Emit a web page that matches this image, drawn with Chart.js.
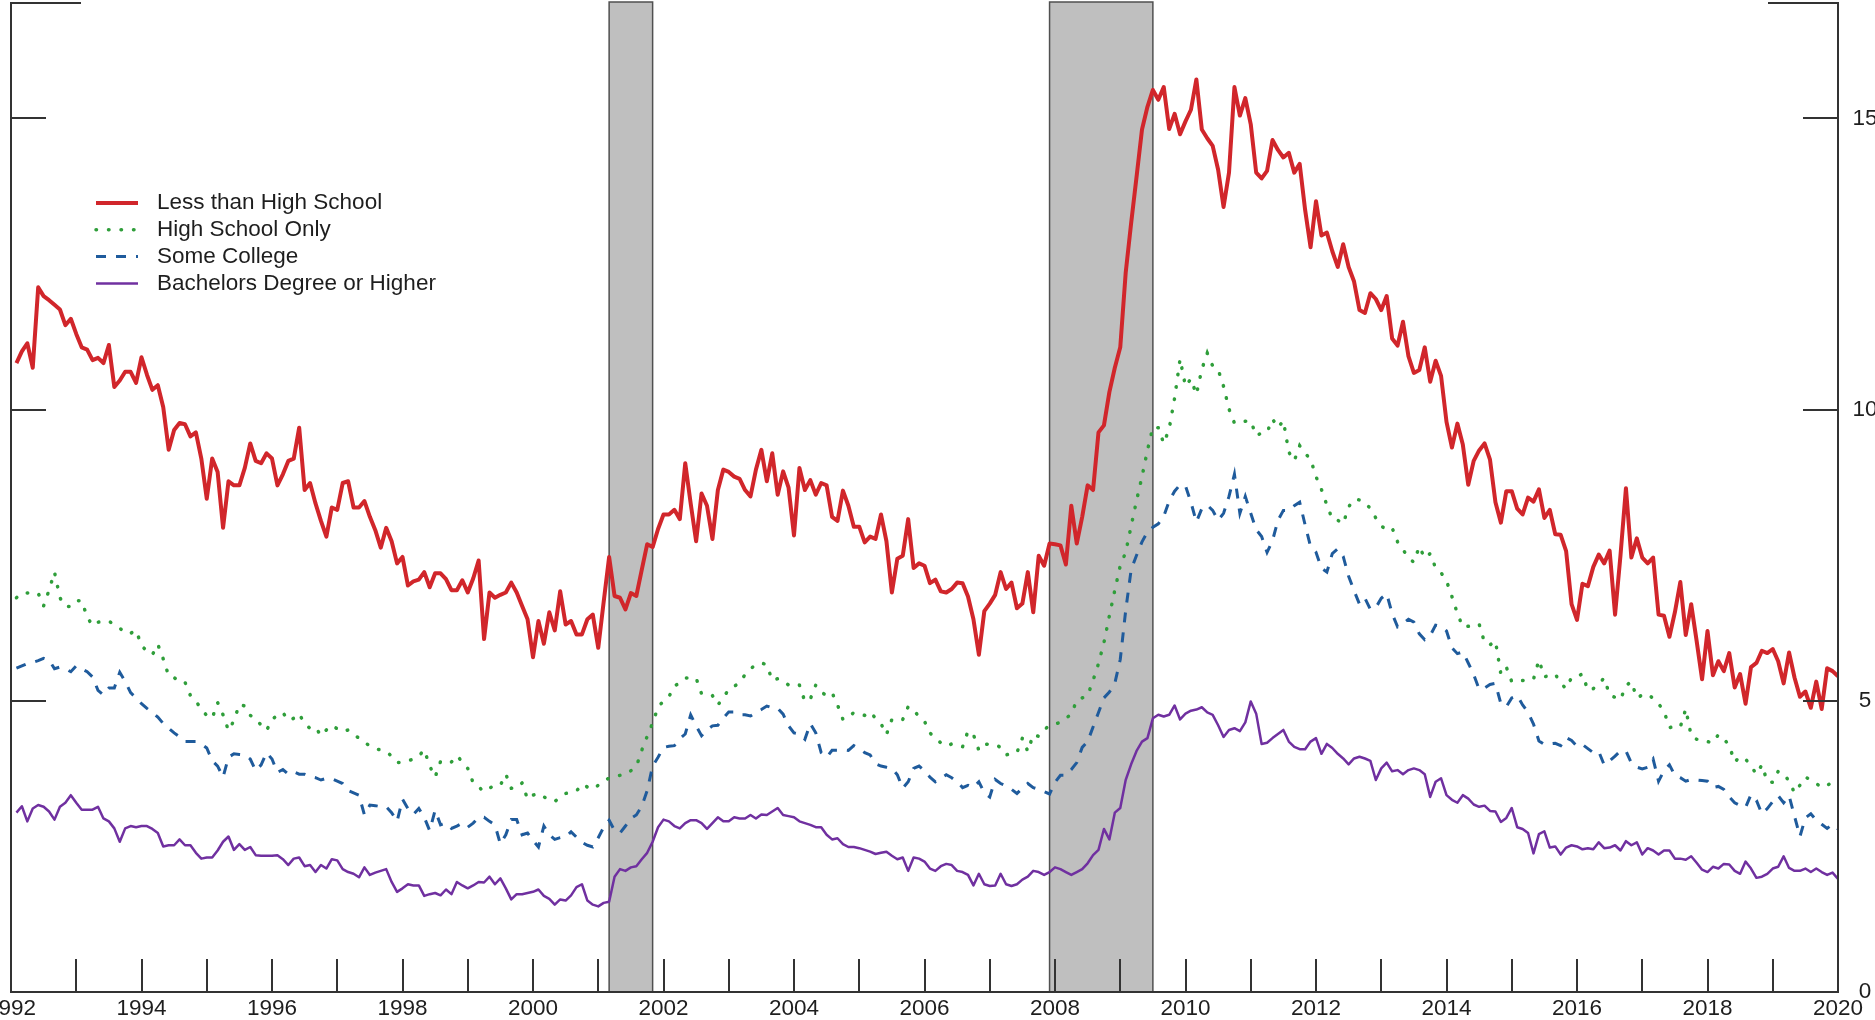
<!DOCTYPE html>
<html>
<head>
<meta charset="utf-8">
<script src="https://cdn.jsdelivr.net/npm/chart.js@4.4.0/dist/chart.umd.min.js"></script>
<style>
html,body{margin:0;padding:0;background:#ffffff;overflow:hidden}
canvas{display:block}
</style>
</head>
<body>
<canvas id="chart" width="1875" height="1020"></canvas>
<script>
// ---- data (monthly, Jan 1992 – Dec 2019) ----
const startYear = 1992;
const seriesNames = ['Less than High School', 'High School Only', 'Some College', 'Bachelors Degree or Higher'];

const lessHS = [
  10.80, 11.00, 11.14, 10.72, 12.10, 11.95, 11.88, 11.80, 11.72, 11.45, 11.56, 11.30,
  11.07, 11.03, 10.85, 10.89, 10.80, 11.11, 10.39, 10.50, 10.65, 10.65, 10.46, 10.90,
  10.60, 10.34, 10.42, 10.04, 9.31, 9.65, 9.77, 9.75, 9.54, 9.61, 9.16, 8.47,
  9.16, 8.93, 7.97, 8.77, 8.70, 8.70, 9.00, 9.42, 9.12, 9.08, 9.25, 9.16,
  8.70, 8.89, 9.12, 9.16, 9.69, 8.62, 8.74, 8.39, 8.09, 7.82, 8.32, 8.28,
  8.74, 8.77, 8.32, 8.32, 8.43, 8.16, 7.93, 7.63, 7.97, 7.74, 7.36, 7.47,
  6.98, 7.05, 7.08, 7.21, 6.95, 7.19, 7.19, 7.09, 6.90, 6.90, 7.07, 6.86,
  7.10, 7.41, 6.06, 6.86, 6.77, 6.82, 6.86, 7.03, 6.86, 6.63, 6.40, 5.75,
  6.37, 5.98, 6.52, 6.21, 6.88, 6.31, 6.37, 6.14, 6.14, 6.40, 6.48, 5.91,
  6.70, 7.47, 6.80, 6.77, 6.57, 6.85, 6.80, 7.25, 7.69, 7.64, 7.95, 8.20,
  8.20, 8.28, 8.12, 9.08, 8.39, 7.74, 8.56, 8.35, 7.78, 8.62, 8.97, 8.93,
  8.85, 8.81, 8.62, 8.51, 8.97, 9.31, 8.77, 9.25, 8.54, 8.94, 8.66, 7.84,
  9.00, 8.62, 8.79, 8.54, 8.74, 8.70, 8.16, 8.09, 8.61, 8.35, 7.99, 7.99,
  7.72, 7.82, 7.78, 8.20, 7.74, 6.86, 7.44, 7.49, 8.12, 7.28, 7.36, 7.32,
  7.02, 7.08, 6.88, 6.86, 6.92, 7.03, 7.02, 6.79, 6.40, 5.79, 6.54, 6.67,
  6.82, 7.21, 6.92, 7.03, 6.59, 6.67, 7.21, 6.52, 7.49, 7.32, 7.70, 7.69,
  7.67, 7.34, 8.35, 7.70, 8.16, 8.70, 8.62, 9.61, 9.73, 10.30, 10.72, 11.07,
  12.35, 13.20, 14.00, 14.81, 15.20, 15.49, 15.32, 15.54, 14.82, 15.08, 14.73, 14.95,
  15.15, 15.67, 14.81, 14.66, 14.53, 14.12, 13.48, 14.07, 15.54, 15.05, 15.35, 14.90,
  14.07, 13.97, 14.10, 14.63, 14.46, 14.33, 14.41, 14.07, 14.22, 13.43, 12.79, 13.58,
  12.99, 13.04, 12.72, 12.45, 12.84, 12.45, 12.20, 11.71, 11.66, 12.00, 11.90, 11.71,
  11.95, 11.22, 11.10, 11.51, 10.92, 10.63, 10.68, 11.07, 10.48, 10.84, 10.58, 9.79,
  9.35, 9.76, 9.40, 8.71, 9.12, 9.30, 9.42, 9.14, 8.41, 8.06, 8.60, 8.60,
  8.30, 8.20, 8.49, 8.42, 8.63, 8.14, 8.28, 7.86, 7.85, 7.57, 6.66, 6.39,
  7.01, 6.97, 7.30, 7.51, 7.36, 7.58, 6.48, 7.50, 8.65, 7.46, 7.79, 7.46,
  7.36, 7.46, 6.48, 6.46, 6.10, 6.52, 7.04, 6.13, 6.66, 6.03, 5.37, 6.20,
  5.44, 5.68, 5.51, 5.82, 5.23, 5.46, 4.95, 5.58, 5.65, 5.86, 5.82, 5.89,
  5.68, 5.30, 5.83, 5.40, 5.07, 5.16, 4.88, 5.33, 4.86, 5.56, 5.51, 5.42
];

const hsOnly = [
  6.77, 6.85, 6.85, 6.85, 6.85, 6.63, 6.90, 7.21, 6.77, 6.62, 6.62, 6.72,
  6.72, 6.44, 6.29, 6.35, 6.37, 6.37, 6.30, 6.25, 6.16, 6.16, 6.21, 5.95,
  5.85, 5.79, 5.97, 5.72, 5.43, 5.40, 5.32, 5.32, 5.09, 5.00, 4.85, 4.75,
  4.70, 4.97, 4.76, 4.49, 4.66, 4.94, 4.91, 4.75, 4.70, 4.58, 4.49, 4.68,
  4.75, 4.80, 4.66, 4.70, 4.78, 4.60, 4.53, 4.55, 4.40, 4.50, 4.58, 4.52,
  4.47, 4.50, 4.42, 4.36, 4.28, 4.23, 4.17, 4.16, 4.13, 4.05, 3.94, 3.94,
  3.97, 4.00, 4.05, 4.16, 3.88, 3.69, 3.96, 3.93, 3.95, 4.06, 3.95, 3.84,
  3.59, 3.52, 3.44, 3.50, 3.55, 3.55, 3.74, 3.50, 3.50, 3.59, 3.31, 3.38,
  3.41, 3.35, 3.30, 3.27, 3.35, 3.41, 3.43, 3.45, 3.57, 3.52, 3.48, 3.55,
  3.63, 3.67, 3.71, 3.72, 3.73, 3.80, 3.87, 4.15, 4.39, 4.62, 4.89, 5.00,
  5.07, 5.26, 5.30, 5.39, 5.39, 5.39, 5.12, 5.10, 5.09, 4.93, 5.05, 5.20,
  5.25, 5.31, 5.45, 5.55, 5.62, 5.65, 5.62, 5.35, 5.38, 5.35, 5.27, 5.30,
  5.27, 4.99, 5.03, 5.27, 5.15, 5.09, 5.14, 4.93, 4.68, 4.72, 4.80, 4.77,
  4.75, 4.81, 4.70, 4.61, 4.42, 4.68, 4.70, 4.68, 4.90, 4.85, 4.72, 4.65,
  4.45, 4.35, 4.28, 4.22, 4.26, 4.24, 4.21, 4.48, 4.42, 4.15, 4.25, 4.26,
  4.25, 4.20, 4.07, 4.10, 4.11, 4.36, 4.13, 4.42, 4.39, 4.50, 4.58, 4.60,
  4.63, 4.70, 4.77, 5.01, 5.05, 5.09, 5.35, 5.64, 6.00, 6.46, 6.90, 7.32,
  7.55, 8.00, 8.44, 8.85, 9.30, 9.70, 9.69, 9.42, 9.67, 10.20, 10.87, 10.40,
  10.53, 10.26, 10.69, 10.97, 10.75, 10.69, 10.40, 10.01, 9.77, 9.79, 9.80, 9.81,
  9.55, 9.60, 9.61, 9.84, 9.69, 9.81, 9.27, 9.12, 9.38, 9.25, 9.15, 8.85,
  8.63, 8.36, 8.12, 8.10, 8.04, 8.33, 8.46, 8.45, 8.41, 8.30, 8.14, 8.00,
  7.94, 7.97, 7.73, 7.60, 7.45, 7.38, 7.65, 7.45, 7.53, 7.28, 7.20, 7.06,
  6.79, 6.50, 6.27, 6.28, 6.30, 6.32, 6.00, 5.96, 6.03, 5.46, 5.58, 5.33,
  5.34, 5.35, 5.36, 5.37, 5.70, 5.41, 5.44, 5.46, 5.30, 5.21, 5.40, 5.42,
  5.46, 5.18, 5.21, 5.30, 5.39, 5.10, 5.06, 5.02, 5.26, 5.33, 5.05, 5.10,
  5.12, 5.04, 4.95, 4.82, 4.54, 4.56, 4.55, 4.86, 4.40, 4.34, 4.34, 4.30,
  4.28, 4.42, 4.35, 4.23, 3.95, 4.04, 4.00, 3.88, 3.74, 3.90, 3.61, 3.60,
  3.79, 3.75, 3.62, 3.42, 3.55, 3.69, 3.64, 3.58, 3.51, 3.55, 3.60, 3.60
];

const someCollege = [
  5.56, 5.60, 5.64, 5.66, 5.69, 5.73, 5.70, 5.55, 5.58, 5.55, 5.50, 5.60,
  5.55, 5.50, 5.41, 5.18, 5.10, 5.22, 5.22, 5.49, 5.33, 5.14, 5.05, 4.95,
  4.87, 4.80, 4.72, 4.61, 4.53, 4.45, 4.38, 4.30, 4.30, 4.30, 4.26, 4.19,
  3.97, 3.88, 3.69, 4.03, 4.09, 4.08, 4.07, 4.00, 3.80, 3.90, 4.11, 4.00,
  3.77, 3.82, 3.74, 3.78, 3.74, 3.74, 3.70, 3.68, 3.64, 3.67, 3.66, 3.62,
  3.58, 3.46, 3.42, 3.38, 3.04, 3.21, 3.20, 3.18, 3.18, 3.08, 2.93, 3.31,
  3.15, 3.05, 3.15, 3.00, 2.77, 3.12, 2.87, 2.90, 2.81, 2.85, 2.90, 2.83,
  2.90, 3.00, 3.00, 2.93, 2.87, 2.54, 2.70, 2.96, 2.96, 2.70, 2.73, 2.60,
  2.49, 2.85, 2.70, 2.62, 2.65, 2.66, 2.75, 2.66, 2.57, 2.52, 2.49, 2.65,
  2.83, 2.95, 2.77, 2.73, 2.85, 2.98, 3.04, 3.19, 3.46, 3.88, 4.03, 4.20,
  4.22, 4.23, 4.35, 4.43, 4.76, 4.57, 4.40, 4.50, 4.57, 4.58, 4.70, 4.81,
  4.81, 4.76, 4.76, 4.74, 4.80, 4.85, 4.91, 4.88, 4.87, 4.77, 4.57, 4.45,
  4.43, 4.34, 4.61, 4.45, 4.11, 4.03, 4.15, 4.15, 4.16, 4.15, 4.23, 4.18,
  4.11, 4.07, 3.92, 3.88, 3.86, 3.84, 3.73, 3.50, 3.61, 3.84, 3.88, 3.80,
  3.69, 3.61, 3.67, 3.73, 3.68, 3.61, 3.51, 3.55, 3.51, 3.61, 3.42, 3.35,
  3.65, 3.58, 3.54, 3.48, 3.41, 3.50, 3.58, 3.51, 3.48, 3.44, 3.40, 3.60,
  3.72, 3.72, 3.82, 3.94, 4.20, 4.30, 4.55, 4.80, 5.05, 5.15, 5.30, 5.71,
  6.55, 7.25, 7.50, 7.73, 7.90, 7.98, 8.04, 8.17, 8.43, 8.60, 8.71, 8.69,
  8.41, 8.07, 8.30, 8.36, 8.27, 8.10, 8.22, 8.51, 8.89, 8.22, 8.51, 8.22,
  7.94, 7.82, 7.55, 7.75, 8.10, 8.27, 8.27, 8.35, 8.41, 8.02, 7.65, 7.55,
  7.28, 7.21, 7.53, 7.61, 7.48, 7.14, 6.89, 6.66, 6.76, 6.57, 6.60, 6.76,
  6.84, 6.50, 6.27, 6.33, 6.40, 6.35, 6.15, 6.05, 6.12, 6.30, 6.28, 6.20,
  5.91, 5.81, 5.84, 5.65, 5.45, 5.20, 5.22, 5.28, 5.30, 4.95, 4.90, 5.05,
  5.09, 4.93, 4.80, 4.60, 4.31, 4.25, 4.26, 4.27, 4.23, 4.37, 4.32, 4.22,
  4.25, 4.18, 4.11, 4.13, 3.90, 3.97, 4.05, 4.14, 4.14, 3.93, 3.86, 3.83,
  3.86, 4.00, 3.62, 3.80, 3.90, 3.72, 3.68, 3.62, 3.65, 3.64, 3.63, 3.62,
  3.51, 3.53, 3.48, 3.35, 3.25, 3.20, 3.17, 3.39, 3.29, 3.06, 3.15, 3.27,
  3.37, 3.25, 3.37, 3.02, 2.67, 2.99, 3.06, 2.95, 2.88, 2.81, 2.88, 2.80
];

const bachelors = [
  3.08, 3.19, 2.93, 3.15, 3.21, 3.18, 3.10, 2.96, 3.18, 3.25, 3.38, 3.25,
  3.13, 3.13, 3.13, 3.18, 2.98, 2.93, 2.81, 2.58, 2.81, 2.85, 2.83, 2.85,
  2.85, 2.80, 2.73, 2.50, 2.52, 2.52, 2.62, 2.52, 2.52, 2.39, 2.29, 2.31,
  2.31, 2.43, 2.58, 2.67, 2.44, 2.54, 2.44, 2.49, 2.35, 2.34, 2.34, 2.34,
  2.35, 2.28, 2.18, 2.29, 2.31, 2.16, 2.18, 2.06, 2.18, 2.12, 2.28, 2.26,
  2.11, 2.06, 2.03, 1.97, 2.14, 2.01, 2.05, 2.08, 2.11, 1.89, 1.72, 1.78,
  1.85, 1.83, 1.83, 1.65, 1.68, 1.70, 1.66, 1.76, 1.68, 1.89, 1.83, 1.78,
  1.83, 1.89, 1.88, 1.98, 1.85, 1.95, 1.78, 1.59, 1.68, 1.68, 1.70, 1.72,
  1.76, 1.65, 1.60, 1.50, 1.59, 1.57, 1.66, 1.80, 1.85, 1.57, 1.50, 1.47,
  1.53, 1.55, 1.98, 2.11, 2.08, 2.14, 2.16, 2.28, 2.39, 2.58, 2.83, 2.96,
  2.93, 2.85, 2.81, 2.90, 2.95, 2.95, 2.90, 2.80, 2.90, 3.00, 2.93, 2.93,
  3.00, 2.98, 2.98, 3.04, 2.98, 3.05, 3.04, 3.10, 3.16, 3.04, 3.02, 3.00,
  2.93, 2.90, 2.87, 2.83, 2.83, 2.70, 2.62, 2.64, 2.54, 2.49, 2.49, 2.47,
  2.44, 2.41, 2.37, 2.39, 2.41, 2.34, 2.28, 2.31, 2.08, 2.31, 2.29, 2.24,
  2.12, 2.08, 2.16, 2.20, 2.18, 2.08, 2.06, 2.01, 1.83, 2.03, 1.85, 1.82,
  1.83, 2.03, 1.85, 1.82, 1.85, 1.93, 1.98, 2.08, 2.06, 2.01, 2.06, 2.14,
  2.11, 2.06, 2.01, 2.06, 2.11, 2.21, 2.35, 2.44, 2.80, 2.62, 3.08, 3.16,
  3.64, 3.91, 4.14, 4.30, 4.36, 4.70, 4.76, 4.73, 4.76, 4.92, 4.68, 4.78,
  4.83, 4.85, 4.89, 4.80, 4.76, 4.58, 4.38, 4.50, 4.53, 4.48, 4.63, 4.99,
  4.78, 4.26, 4.28, 4.36, 4.43, 4.50, 4.30, 4.21, 4.17, 4.17, 4.30, 4.36,
  4.09, 4.26, 4.19, 4.09, 4.01, 3.91, 4.01, 4.04, 4.01, 3.97, 3.64, 3.84,
  3.94, 3.79, 3.81, 3.74, 3.81, 3.84, 3.81, 3.74, 3.35, 3.61, 3.67, 3.38,
  3.30, 3.25, 3.38, 3.32, 3.22, 3.18, 3.20, 3.11, 3.10, 2.92, 2.99, 3.16,
  2.83, 2.80, 2.73, 2.38, 2.71, 2.76, 2.48, 2.50, 2.36, 2.48, 2.52, 2.50,
  2.45, 2.47, 2.45, 2.57, 2.47, 2.48, 2.52, 2.43, 2.59, 2.52, 2.57, 2.36,
  2.47, 2.43, 2.36, 2.43, 2.43, 2.29, 2.29, 2.27, 2.33, 2.22, 2.10, 2.06,
  2.15, 2.12, 2.20, 2.19, 2.08, 2.03, 2.24, 2.12, 1.96, 1.98, 2.03, 2.12,
  2.15, 2.33, 2.13, 2.08, 2.08, 2.12, 2.06, 2.12, 2.06, 2.01, 2.05, 1.94
];

// recession periods (start, end) in decimal years
const recessionStarts = [2001 + 2 / 12, 2007 + 11 / 12];
const recessionEnds = [2001 + 10 / 12, 2009 + 6 / 12];

// tick marks and labels
const xTickYears = [];
for (let yr = 1993; yr <= 2019; yr++) xTickYears.push(yr);
const xLabelYears = [1992, 1994, 1996, 1998, 2000, 2002, 2004, 2006, 2008, 2010, 2012, 2014, 2016, 2018, 2020];
const yTickValues = [5, 10, 15];
const yLabelValues = [0, 5, 10, 15];

// ---- build ----
function toPoints(arr) {
  return arr.map((v, i) => ({ x: startYear + (i + 1) / 12, y: v }));
}

const FONT = '"Liberation Sans", Arial, Helvetica, sans-serif';

const decor = {
  id: 'decor',
  beforeDatasetsDraw(chart) {
    const { ctx, chartArea: a, scales: { x } } = chart;
    ctx.save();
    for (let i = 0; i < recessionStarts.length; i++) {
      const x0 = x.getPixelForValue(recessionStarts[i]);
      const x1 = x.getPixelForValue(recessionEnds[i]);
      ctx.fillStyle = '#bfbfbf';
      ctx.fillRect(x0, a.top, x1 - x0, a.bottom - a.top);
      ctx.strokeStyle = '#505050';
      ctx.lineWidth = 1.5;
      ctx.strokeRect(x0, a.top, x1 - x0, a.bottom - a.top);
    }
    ctx.restore();
  },
  afterDatasetsDraw(chart) {
    const { ctx, chartArea: a, scales: { x, y } } = chart;
    ctx.save();
    ctx.strokeStyle = '#333333';
    ctx.lineWidth = 2;
    ctx.lineCap = 'butt';
    ctx.setLineDash([]);
    ctx.beginPath();
    // frame: left, bottom, right
    ctx.moveTo(a.left, a.top);
    ctx.lineTo(a.left, a.bottom);
    ctx.lineTo(a.right, a.bottom);
    ctx.lineTo(a.right, a.top);
    // short top segments
    ctx.moveTo(a.left, a.top + 1);
    ctx.lineTo(a.left + 70, a.top + 1);
    ctx.moveTo(a.right - 70, a.top + 1);
    ctx.lineTo(a.right, a.top + 1);
    // y ticks (both sides, inward)
    yTickValues.forEach(v => {
      const py = Math.round(y.getPixelForValue(v));
      ctx.moveTo(a.left, py);
      ctx.lineTo(a.left + 35, py);
      ctx.moveTo(a.right - 35, py);
      ctx.lineTo(a.right, py);
    });
    // x ticks (inward from bottom)
    xTickYears.forEach(yr => {
      const px = Math.round(x.getPixelForValue(yr));
      ctx.moveTo(px, a.bottom);
      ctx.lineTo(px, a.bottom - 33);
    });
    ctx.stroke();

    // tick labels
    ctx.fillStyle = '#1e1e1e';
    ctx.font = '22.5px ' + FONT;
    ctx.textAlign = 'center';
    ctx.textBaseline = 'middle';
    xLabelYears.forEach(yr => {
      ctx.fillText(String(yr), x.getPixelForValue(yr), a.bottom + 17);
    });
    yLabelValues.forEach(v => {
      ctx.fillText(String(v), a.right + 27, y.getPixelForValue(v));
    });

    // legend
    const ds = chart.data.datasets;
    ctx.textAlign = 'left';
    ds.forEach((d, i) => {
      const ly = 203 + i * 26.8;
      ctx.save();
      ctx.strokeStyle = d.borderColor;
      ctx.lineWidth = d.borderWidth;
      ctx.lineCap = d.borderCapStyle || 'butt';
      ctx.setLineDash(d.borderDash || []);
      ctx.beginPath();
      ctx.moveTo(96, ly);
      ctx.lineTo(138, ly);
      ctx.stroke();
      ctx.restore();
      ctx.fillStyle = '#1e1e1e';
      ctx.fillText(d.label, 157, ly);
    });
    ctx.restore();
  }
};

new Chart(document.getElementById('chart'), {
  type: 'line',
  data: {
    datasets: [
      {
        label: seriesNames[0],
        data: toPoints(lessHS),
        borderColor: '#d1262b',
        borderWidth: 4,
        borderJoinStyle: 'round',
        pointRadius: 0,
        tension: 0,
        order: 1
      },
      {
        label: seriesNames[1],
        data: toPoints(hsOnly),
        borderColor: '#2f9e3a',
        borderWidth: 3.5,
        borderDash: [0.5, 12],
        borderCapStyle: 'round',
        pointRadius: 0,
        tension: 0,
        order: 2
      },
      {
        label: seriesNames[2],
        data: toPoints(someCollege),
        borderColor: '#1f5b9c',
        borderWidth: 3,
        borderDash: [10, 10],
        pointRadius: 0,
        tension: 0,
        order: 3
      },
      {
        label: seriesNames[3],
        data: toPoints(bachelors),
        borderColor: '#7030a0',
        borderWidth: 2.5,
        borderJoinStyle: 'round',
        pointRadius: 0,
        tension: 0,
        order: 4
      }
    ]
  },
  options: {
    responsive: false,
    devicePixelRatio: 1,
    animation: false,
    layout: { padding: { left: 11, right: 37, top: 2, bottom: 28 } },
    scales: {
      x: { type: 'linear', min: 1992, max: 2020, display: false },
      y: { type: 'linear', min: 0, max: 17, display: false }
    },
    plugins: {
      legend: { display: false },
      tooltip: { enabled: false }
    }
  },
  plugins: [decor]
});
</script>
</body>
</html>
